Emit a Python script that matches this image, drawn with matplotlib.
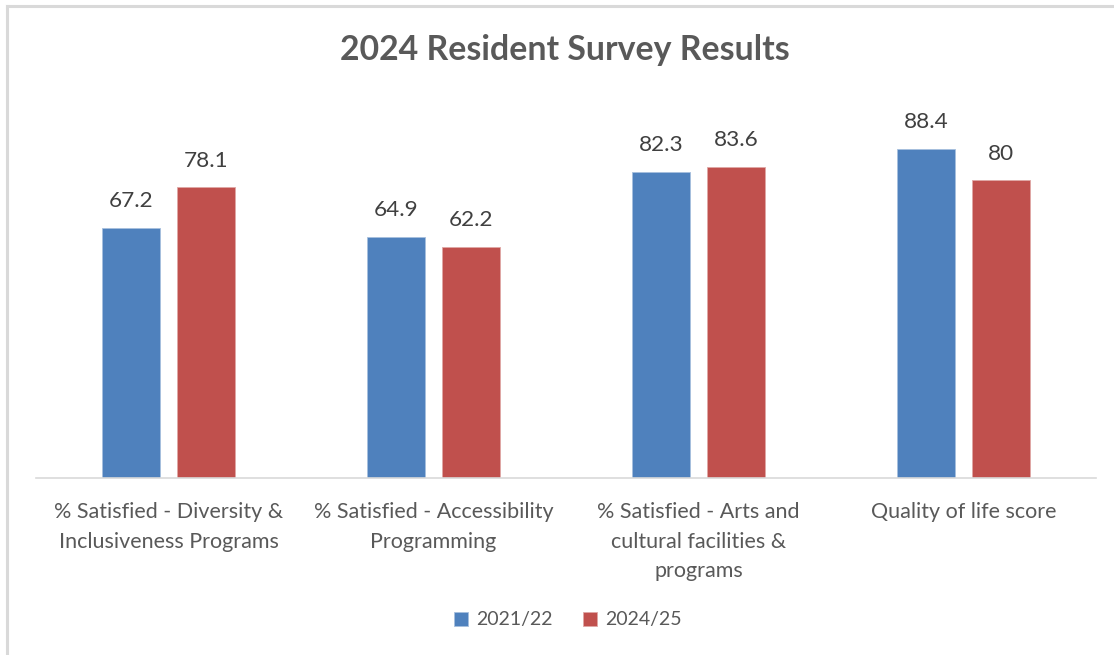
import numpy as np
import matplotlib
matplotlib.use("Agg")
import matplotlib.pyplot as plt
from matplotlib.lines import Line2D

# Data
categories = ["% Satisfied - Diversity &\nInclusiveness Programs",
              "% Satisfied - Accessibility\nProgramming",
              "% Satisfied - Arts and\ncultural facilities &\nprograms",
              "Quality of life score"]
series_names = ["2021/22", "2024/25"]
vals_2122 = [67.2, 64.9, 82.3, 88.4]
vals_2425 = [78.1, 62.2, 83.6, 80]
value_labels_2122 = ["67.2", "64.9", "82.3", "88.4"]
value_labels_2425 = ["78.1", "62.2", "83.6", "80"]

colors = ["#4F81BD", "#C0504D"]
text_col = "#595959"
plt.rcParams["font.family"] = ["Lato", "DejaVu Sans"]

fig = plt.figure(figsize=(11.14, 6.55), dpi=100)
ax = fig.add_axes([36 / 1114, 177 / 655, 1060 / 1114, 372 / 655])

x = np.arange(len(categories))
w = 0.221
off = 0.1415
b1 = ax.bar(x - off, vals_2122, w, color=colors[0], edgecolor="#A7BFDE", linewidth=0.6,
            label=series_names[0])
b2 = ax.bar(x + off, vals_2425, w, color=colors[1], edgecolor="#DFA7A6", linewidth=0.6,
            label=series_names[1])
ax.bar_label(b1, labels=value_labels_2122, padding=12, fontsize=16.2, color="#404040")
ax.bar_label(b2, labels=value_labels_2425, padding=12, fontsize=16.2, color="#404040")

ax.set_xlim(-0.5, len(categories) - 0.5)
ax.set_ylim(0, 100)
ax.set_yticks([])
ax.set_xticks(x)
ax.set_xticklabels(categories, fontsize=15.5, color=text_col, linespacing=1.62)
ax.tick_params(axis="x", length=0, pad=17)
for s in ["top", "right", "left"]:
    ax.spines[s].set_visible(False)
ax.spines["bottom"].set_color("#D9D9D9")
ax.spines["bottom"].set_linewidth(1.2)

fig.suptitle("2024 Resident Survey Results", x=565 / 1114, y=1 - 50 / 655, va="center",
             fontsize=24.4, fontweight="bold", color=text_col)

fig.legend(loc="center", bbox_to_anchor=(568 / 1114, 1 - 620 / 655), ncol=2, frameon=False,
           fontsize=14, handlelength=0.7, handleheight=0.7, handletextpad=0.4,
           columnspacing=1.6, labelcolor=text_col)

# chart border (left and top visible)
fig.add_artist(Line2D([7 / 1114, 7 / 1114], [0, 1 - 6 / 655], color="#D9D9D9", lw=2.2,
                      transform=fig.transFigure))
fig.add_artist(Line2D([7 / 1114, 1.0], [1 - 6 / 655, 1 - 6 / 655], color="#D9D9D9", lw=2.2,
                      transform=fig.transFigure))

fig.savefig("out.png", dpi=100)
